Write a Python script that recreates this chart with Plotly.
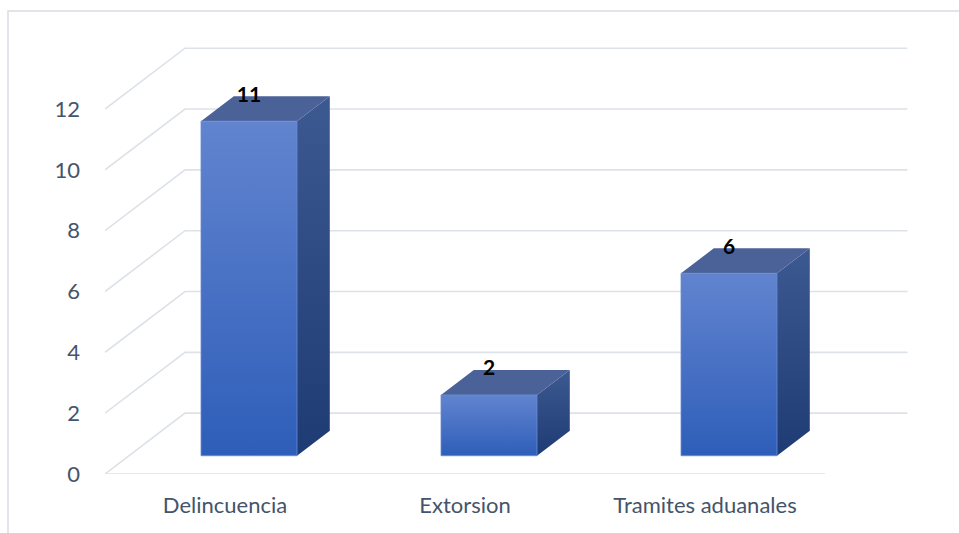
import plotly.graph_objects as go

categories = ["Delincuencia", "Extorsion", "Tramites aduanales"]
values = [11, 2, 6]
y_ticks = [0, 2, 4, 6, 8, 10, 12]

# Oblique projection of the depth axis, expressed in data units
DEPTH_X = 1 / 3   # shift along the category axis for full depth
DEPTH_Y = 2.0     # shift along the value axis for full depth
HALF_W = 0.2      # half of the bar width (category units)
FRONT = 0.30      # depth fraction of the bar's front face
BACK = 0.71       # depth fraction of the bar's back face

GRID = "#DDE1E8"
TEXT = "#44546A"

x_lo, x_hi = -0.5, len(categories) - 0.5

fig = go.Figure()

# Walls: left-wall diagonals, back-wall horizontals and the floor's front edge
gx, gy = [], []
for v in y_ticks:
    gx += [x_lo, x_lo + DEPTH_X, x_hi + DEPTH_X + 0.01, None]
    gy += [v, v + DEPTH_Y, v + DEPTH_Y, None]
gx += [x_lo, x_hi, None]
gy += [0, 0, None]
fig.add_trace(go.Scatter(x=gx, y=gy, mode="lines",
                         line=dict(color=GRID, width=1.6),
                         hoverinfo="skip", showlegend=False))

fdx, fdy = FRONT * DEPTH_X, FRONT * DEPTH_Y
ddx, ddy = (BACK - FRONT) * DEPTH_X, (BACK - FRONT) * DEPTH_Y

for i, v in enumerate(values):
    xl, xr = i - HALF_W + fdx, i + HALF_W + fdx
    yb, yt = fdy, v + fdy
    # right side face
    fig.add_trace(go.Scatter(
        x=[xr, xr + ddx, xr + ddx, xr, xr],
        y=[yb, yb + ddy, yt + ddy, yt, yb],
        mode="lines", fill="toself", line=dict(width=0),
        fillgradient=dict(type="vertical",
                          colorscale=[[0, "#1E3B74"], [1, "#3D5991"]]),
        hoverinfo="skip", showlegend=False))
    # top face
    fig.add_trace(go.Scatter(
        x=[xl, xr, xr + ddx, xl + ddx, xl],
        y=[yt, yt, yt + ddy, yt + ddy, yt],
        mode="lines", fill="toself", line=dict(width=0),
        fillcolor="#4A6298", hoverinfo="skip", showlegend=False))
    # front face
    fig.add_trace(go.Scatter(
        x=[xl, xr, xr, xl, xl],
        y=[yb, yb, yt, yt, yb],
        mode="lines", fill="toself", line=dict(width=0.8, color="#6A8BD3"),
        fillgradient=dict(type="vertical",
                          colorscale=[[0, "#2E5EB9"], [1, "#6284CF"]]),
        hoverinfo="skip", showlegend=False))

# Value labels at the back edge of each bar's top
fig.add_trace(go.Scatter(
    x=[i + fdx for i in range(len(values))],
    y=[v + BACK * DEPTH_Y for v in values],
    mode="text", text=[str(v) for v in values],
    textposition="middle center",
    textfont=dict(family="Lato", size=21, color="#000000", weight="bold"),
    hoverinfo="skip", showlegend=False))

fig.update_layout(
    width=959, height=533,
    margin=dict(l=105, r=38, t=33, b=59),
    paper_bgcolor="white", plot_bgcolor="white",
    font=dict(family="Lato", size=22, color=TEXT),
    xaxis=dict(range=[x_lo, 2.9], tickvals=list(range(len(categories))),
               ticktext=categories, showgrid=False, zeroline=False,
               showline=False, ticks="", ticklabelstandoff=16,
               fixedrange=True),
    yaxis=dict(range=[0, 14.5], tickvals=y_ticks, showgrid=False,
               zeroline=False, showline=False, ticks="",
               ticklabelstandoff=24, fixedrange=True),
    shapes=[dict(type="rect", xref="paper", yref="paper",
                 x0=(8 - 105) / 816, x1=1.2, y0=-0.3, y1=(474 - 11) / 441,
                 line=dict(color="#D9DCE2", width=1.5), layer="below")],
    showlegend=False,
)

fig.write_html("out.html")
